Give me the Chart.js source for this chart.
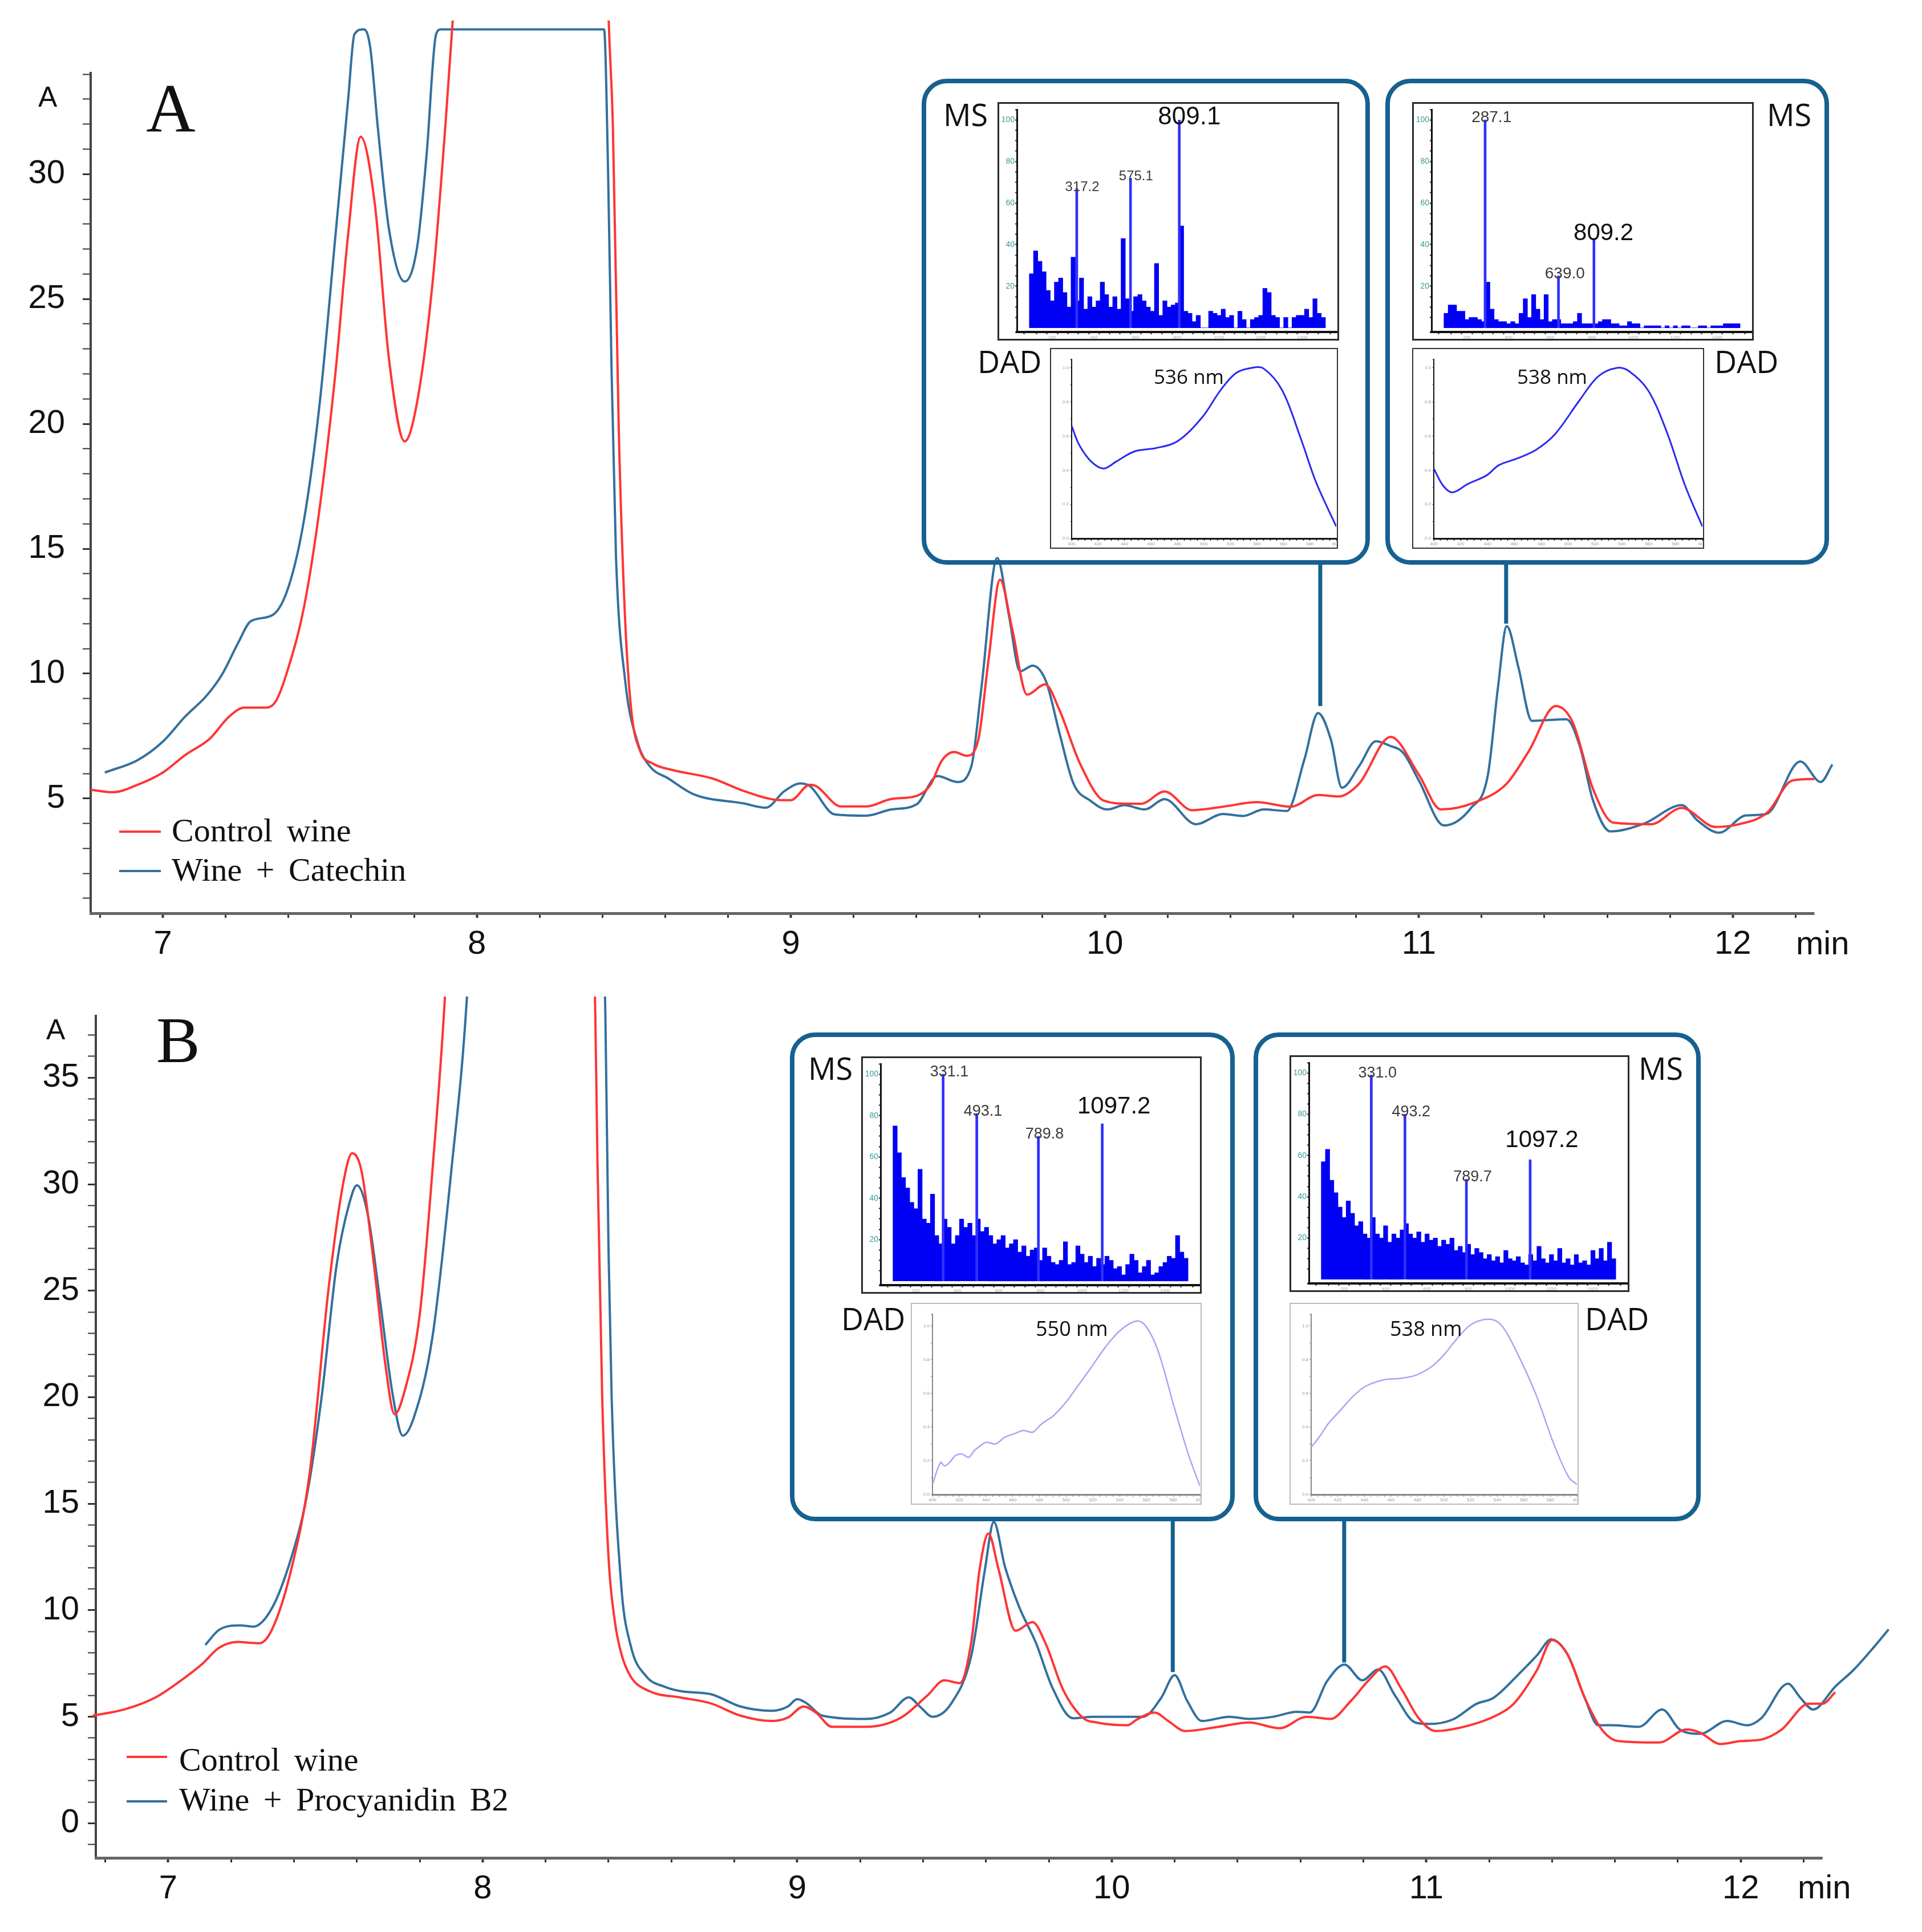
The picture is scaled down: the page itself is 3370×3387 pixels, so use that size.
<!DOCTYPE html>
<html>
<head>
<meta charset="utf-8">
<script src="https://cdn.jsdelivr.net/npm/chart.js@4.4.1/dist/chart.umd.min.js"></script>
<style>
html, body { margin: 0; padding: 0; background: #fff; }
#page { position: relative; width: 3370px; height: 3387px; overflow: hidden; background: #fff; }
canvas { position: absolute; }
.lbl { position: absolute; white-space: pre; line-height: 1; color: #111; }
.box { position: absolute; box-sizing: border-box; border: 8px solid #15618f; border-radius: 44px; }
.frame { position: absolute; box-sizing: border-box; background: #fff; }
</style>
</head>
<body>
<div id="page"></div>
<script>
/* ---------- chromatogram A : control wine vs wine + catechin (min, absorbance) ---------- */
const timeA_ctrl = [6.77, 6.84, 6.92, 7.0, 7.07, 7.15, 7.21, 7.26, 7.33, 7.36,
    7.40, 7.45, 7.50, 7.55, 7.59, 7.63, 7.675, 7.72, 7.77, 7.81,
    7.86, 7.90, 7.925, 7.95, 8.41, 8.419, 8.433, 8.452, 8.472, 8.492,
    8.52, 8.56, 8.62, 8.75, 8.85, 8.95, 9.0, 9.06, 9.08, 9.16,
    9.24, 9.32, 9.40, 9.445, 9.48, 9.52, 9.56, 9.597, 9.63, 9.666,
    9.705, 9.752, 9.81, 9.856, 9.92, 9.997, 10.073, 10.116, 10.19, 10.278,
    10.376, 10.484, 10.592, 10.68, 10.744, 10.81, 10.91, 11.0, 11.07, 11.18,
    11.28, 11.35, 11.436, 11.49, 11.555, 11.62, 11.74, 11.837, 11.945, 12.02,
    12.11, 12.19, 12.26];
const absA_ctrl = [5.35, 5.25, 5.55, 6.04, 6.73, 7.4, 8.27, 8.64, 8.64, 8.9,
    10.25, 12.7, 16.7, 22.1, 27.6, 31.5, 28.8, 22.6, 19.3, 20.9,
    25.8, 32.0, 36.5, 42, 42, 36.5, 32, 19.7, 12.2, 8.5,
    6.9, 6.4, 6.15, 5.8, 5.3, 4.95, 4.93, 5.55, 5.5, 4.68,
    4.68, 4.98, 5.1, 5.55, 6.5, 6.86, 6.71, 7.35, 10.6, 13.76,
    11.78, 9.16, 9.57, 8.52, 6.42, 4.91, 4.79, 4.79, 5.28, 4.53,
    4.67, 4.85, 4.67, 5.14, 5.08, 5.6, 7.47, 5.95, 4.56, 4.85,
    5.6, 6.89, 8.7, 8.05, 5.37, 4.03, 3.97, 4.62, 3.86, 3.97,
    4.44, 5.72, 5.78];
const timeA_cat = [6.815, 6.92, 7.0, 7.07, 7.14, 7.19, 7.24, 7.28, 7.35, 7.40,
    7.45, 7.50, 7.55, 7.59, 7.61, 7.64, 7.66, 7.685, 7.72, 7.77,
    7.81, 7.84, 7.87, 7.886, 8.405, 8.418, 8.429, 8.443, 8.472, 8.511,
    8.55, 8.61, 8.69, 8.85, 8.92, 8.98, 9.03, 9.06, 9.14, 9.24,
    9.32, 9.40, 9.467, 9.53, 9.575, 9.607, 9.657, 9.694, 9.73, 9.77,
    9.813, 9.856, 9.90, 9.954, 10.008, 10.062, 10.127, 10.19, 10.29, 10.376,
    10.44, 10.506, 10.58, 10.635, 10.679, 10.72, 10.755, 10.81, 10.863, 10.906,
    10.95, 11.0, 11.08, 11.166, 11.22, 11.252, 11.28, 11.317, 11.36, 11.47,
    11.512, 11.555, 11.61, 11.718, 11.837, 11.89, 11.956, 12.042, 12.107, 12.215,
    12.28, 12.317];
const absA_cat = [6.04, 6.54, 7.28, 8.27, 9.13, 10.0, 11.24, 12.1, 12.35, 13.47,
    16.2, 20.9, 27.6, 33.0, 35.6, 35.8, 35.1, 31.8, 27.8, 25.7,
    27.1, 30.8, 35.6, 35.8, 35.8, 30, 22.1, 14.7, 9.75, 7.28,
    6.3, 5.8, 5.17, 4.8, 4.63, 5.3, 5.6, 5.5, 4.36, 4.31,
    4.56, 4.76, 5.9, 5.66, 6.3, 9.45, 14.63, 12.36, 10.09, 10.32,
    9.68, 7.59, 5.6, 4.91, 4.56, 4.73, 4.56, 4.97, 3.97, 4.38,
    4.3, 4.56, 4.5, 6.54, 8.42, 7.35, 5.43, 6.3, 7.29, 7.12,
    6.83, 5.72, 3.92, 4.62, 5.95, 9.45, 11.9, 10.26, 8.11, 8.17,
    7.12, 4.91, 3.68, 4.0, 4.73, 4.09, 3.63, 4.32, 4.38, 6.48,
    5.66, 6.36];

/* ---------- chromatogram B : control wine vs wine + procyanidin B2 ---------- */
const timeB_ctrl = [6.76, 6.86, 6.96, 7.035, 7.11, 7.16, 7.22, 7.29, 7.33, 7.39,
    7.45, 7.51, 7.556, 7.585, 7.615, 7.654, 7.69, 7.72, 7.75, 7.80,
    7.84, 7.88, 7.90, 8.345, 8.358, 8.365, 8.38, 8.40, 8.42, 8.44,
    8.47, 8.53, 8.63, 8.725, 8.82, 8.92, 8.97, 9.02, 9.06, 9.11,
    9.22, 9.33, 9.414, 9.468, 9.517, 9.554, 9.58, 9.608, 9.64, 9.694,
    9.748, 9.79, 9.845, 9.91, 9.953, 10.05, 10.08, 10.136, 10.18, 10.233,
    10.34, 10.437, 10.534, 10.62, 10.696, 10.76, 10.815, 10.87, 10.922, 10.976,
    11.03, 11.138, 11.224, 11.278, 11.353, 11.40, 11.45, 11.504, 11.558, 11.61,
    11.74, 11.827, 11.87, 11.935, 12.0, 12.065, 12.13, 12.216, 12.26, 12.30];
const absB_ctrl = [5.05, 5.34, 5.91, 6.64, 7.5, 8.22, 8.51, 8.45, 9.09, 11.83,
    16.45, 25.1, 30.0, 31.45, 30.6, 26.25, 21.6, 19.2, 20.2, 23.9,
    30.6, 38.8, 45, 45, 38, 31, 20, 12.5, 9.5, 8.0,
    6.9, 6.2, 5.9, 5.63, 5.05, 4.8, 4.96, 5.48, 5.19, 4.53,
    4.53, 4.96, 6.0, 6.71, 6.58, 8.57, 11.93, 13.6, 11.93, 9.04,
    9.44, 8.43, 6.28, 4.93, 4.73, 4.6, 4.87, 5.2, 4.8, 4.33,
    4.53, 4.73, 4.46, 5.0, 4.9, 5.74, 6.68, 7.36, 6.28, 4.93,
    4.33, 4.6, 5.07, 5.61, 7.22, 8.6, 7.9, 5.88, 4.4, 3.86,
    3.79, 4.4, 4.26, 3.72, 3.86, 3.93, 4.4, 5.61, 5.61, 6.15];
const timeB_pb2 = [7.118, 7.163, 7.23, 7.27, 7.33, 7.39, 7.44, 7.487, 7.536, 7.576,
    7.60, 7.635, 7.674, 7.713, 7.746, 7.78, 7.84, 7.90, 7.95, 7.97,
    8.375, 8.39, 8.40, 8.41, 8.44, 8.47, 8.52, 8.58, 8.63, 8.725,
    8.82, 8.92, 8.97, 9.0, 9.03, 9.08, 9.22, 9.295, 9.355, 9.39,
    9.43, 9.49, 9.554, 9.597, 9.625, 9.66, 9.705, 9.76, 9.81, 9.877,
    9.94, 10.017, 10.1, 10.157, 10.2, 10.24, 10.287, 10.373, 10.437, 10.513,
    10.588, 10.63, 10.685, 10.74, 10.797, 10.847, 10.9, 10.965, 11.009, 11.084,
    11.16, 11.213, 11.3, 11.353, 11.397, 11.45, 11.504, 11.547, 11.59, 11.676,
    11.75, 11.806, 11.87, 11.957, 12.02, 12.065, 12.15, 12.19, 12.23, 12.30,
    12.36, 12.425, 12.47];
const absB_pb2 = [8.37, 9.09, 9.29, 9.23, 10.1, 12.4, 15.3, 19.9, 26.25, 29.1,
    29.95, 28.56, 24.5, 20.2, 18.2, 19.0, 22.8, 30.6, 38.8, 45,
    45, 38, 27, 20, 11.25, 8.37, 6.9, 6.4, 6.2, 6.06,
    5.48, 5.28, 5.48, 5.83, 5.63, 5.05, 4.9, 5.19, 5.91, 5.48,
    5.0, 5.63, 7.9, 11.93, 14.15, 12.07, 10.18, 8.43, 6.41, 4.93,
    5.0, 5.0, 5.0, 5.88, 6.95, 5.74, 4.8, 5.0, 4.9, 5.0,
    5.23, 5.2, 6.68, 7.45, 6.71, 7.22, 6.01, 4.73, 4.66, 4.87,
    5.61, 5.88, 7.09, 7.9, 8.63, 7.9, 5.88, 4.6, 4.6, 4.53,
    5.34, 4.4, 4.2, 4.8, 4.6, 4.93, 6.55, 5.88, 5.34, 6.41,
    7.22, 8.3, 9.1];

const seriesA = ['Control wine', 'Wine + Catechin'];
const seriesB = ['Control wine', 'Wine + Procyanidin B2'];

/* peaks that carry an inset: retention time and where the pointer stops */
const markTimesA = [10.686, 11.278];
const markEndsA = [8.7, 12.0];
const markTimesB = [10.194, 10.739];
const markEndsB = [7.1, 7.55];

/* ---------- MS spectra (m/z, relative intensity %) ---------- */
const msBins = [100, 120, 140, 160, 180, 200, 220, 240, 260, 280, 300, 320, 340, 360, 380,
    400, 420, 440, 460, 480, 500, 520, 540, 560, 580, 600, 620, 640, 660, 680,
    700, 720, 740, 760, 780, 800, 820, 840, 860, 880, 900, 920, 940, 960, 980,
    1000, 1020, 1040, 1060, 1080, 1100, 1120, 1140, 1160, 1180, 1200, 1220, 1240, 1260, 1280,
    1300, 1320, 1340, 1360, 1380, 1400, 1420, 1440, 1460, 1480, 1500];
const msNoiseA1 = [26, 37, 32, 27, 18, 13, 22, 24, 17, 10, 34, 13, 24, 9, 15,
    10, 13, 22, 16, 10, 15, 9, 43, 14, 8, 15, 16, 13, 10, 8,
    31, 6, 13, 10, 11, 12, 49, 8, 7, 3, 6, 0, 0, 8, 7,
    6, 9, 5, 6, 0, 8, 4, 0, 4, 5, 6, 19, 17, 6, 5,
    0, 5, 0, 5, 6, 6, 9, 5, 14, 7, 5];
const msNoiseA2 = [7, 11, 11, 8, 8, 4, 5, 5, 4, 3, 22, 9, 4, 3, 3,
    2, 3, 2, 7, 14, 5, 16, 9, 4, 16, 3, 4, 4, 2, 2,
    2, 3, 7, 2, 2, 2, 2, 3, 4, 4, 2, 2, 1, 1, 3,
    2, 2, 0, 1, 1, 1, 1, 0, 1, 0, 1, 0, 1, 1, 0,
    0, 1, 1, 0, 1, 1, 1, 2, 2, 2, 2];
const msNoiseB1 = [75, 62, 50, 45, 38, 35, 54, 30, 28, 42, 22, 18, 30, 26, 18,
    22, 30, 26, 28, 22, 30, 24, 26, 22, 18, 20, 22, 16, 18, 20,
    14, 17, 12, 15, 16, 10, 16, 12, 9, 8, 10, 19, 8, 9, 17,
    13, 9, 12, 7, 11, 8, 12, 10, 6, 7, 3, 8, 13, 10, 4,
    7, 10, 3, 4, 7, 9, 12, 11, 22, 14, 11];
const msNoiseB2 = [57, 63, 48, 42, 35, 30, 38, 32, 26, 28, 22, 20, 30, 22, 20,
    26, 18, 22, 20, 24, 27, 22, 20, 23, 18, 22, 19, 20, 16, 19,
    17, 20, 14, 16, 13, 17, 12, 15, 13, 10, 12, 9, 11, 8, 14,
    10, 9, 11, 8, 7, 12, 9, 16, 10, 8, 12, 9, 15, 8, 10,
    7, 12, 8, 9, 7, 14, 10, 15, 9, 18, 10];
const msPeakMzA1 = [317.2, 575.1, 809.1];
const msPeakIntA1 = [67, 72, 100];
const msPeakMzA2 = [287.1, 639.0, 809.2];
const msPeakIntA2 = [100, 25, 43];
const msPeakMzB1 = [331.1, 493.1, 789.8, 1097.2];
const msPeakIntB1 = [100, 81, 70, 76];
const msPeakMzB2 = [331.0, 493.2, 789.7, 1097.2];
const msPeakIntB2 = [99, 80, 48.5, 58];

/* ---------- DAD spectra (nm, absorbance) ---------- */
const dadNmA1 = [400, 405.6, 414.9, 424.2, 433.5, 447.4, 463.7, 480, 498.6, 512.6, 524.2, 535.8, 545.1, 559, 573, 584.7, 600];
const dadAbsA1 = [0.66, 0.55, 0.45, 0.41, 0.45, 0.51, 0.53, 0.57, 0.71, 0.87, 0.97, 1.0, 0.996, 0.87, 0.59, 0.33, 0.07];
const dadNmA2 = [400, 406.9, 413.9, 425.4, 439.3, 448.5, 462.4, 476.2, 490.1, 508.5, 522.4, 536.3, 545.5, 559.4, 573.2, 587.1, 600];
const dadAbsA2 = [0.41, 0.31, 0.27, 0.32, 0.37, 0.43, 0.47, 0.52, 0.61, 0.81, 0.95, 1.0, 0.98, 0.87, 0.63, 0.31, 0.07];
const dadNmB1 = [400, 406, 409, 412.8, 417, 422, 427, 431.2, 436, 440.4, 447, 454.1, 461, 467.9, 475, 481.7, 490.8, 500, 509.2, 518.3, 529.8, 541.3, 552.8, 559.6, 568.8, 580.3, 591.7, 600];
const dadAbsB1 = [0.06, 0.19, 0.17, 0.19, 0.23, 0.24, 0.22, 0.26, 0.29, 0.31, 0.30, 0.34, 0.36, 0.38, 0.37, 0.42, 0.47, 0.55, 0.65, 0.75, 0.88, 0.98, 1.03, 1.0, 0.85, 0.53, 0.23, 0.05];
const dadNmB2 = [400, 406, 412.8, 422, 431.2, 440.4, 454.1, 467.9, 479.4, 490.8, 500, 509.2, 520.6, 534.4, 543.6, 555, 568.8, 582.6, 594, 600];
const dadAbsB2 = [0.28, 0.34, 0.42, 0.50, 0.58, 0.64, 0.68, 0.69, 0.71, 0.76, 0.83, 0.92, 1.01, 1.04, 1.0, 0.84, 0.60, 0.30, 0.10, 0.06];
const dadMaxLabels = ['536 nm', '538 nm', '550 nm', '538 nm'];

/* ---------- styles ---------- */
const RED = '#ff3535';
const BLUE = '#33709d';
const FRAME = '#15618f';
const SANS = "'Liberation Sans', Arial, sans-serif";
const SERIF = "'Liberation Serif', 'Times New Roman', serif";
const SEGOE = "'Open Sans', 'Noto Sans', sans-serif";
const AXIS_END = 12.26; // where the time axis line stops
Chart.defaults.font.family = SANS;

const page = document.getElementById('page');

function addText(txt, left, top, size, family, color) {
    const d = document.createElement('div');
    d.className = 'lbl';
    d.textContent = txt;
    d.style.left = left + 'px';
    d.style.top = top + 'px';
    d.style.fontSize = size + 'px';
    d.style.fontFamily = family;
    if (color) d.style.color = color;
    page.appendChild(d);
    return d;
}
function addCanvas(parent, left, top, w, h) {
    const c = document.createElement('canvas');
    c.width = w; c.height = h;
    c.style.left = left + 'px'; c.style.top = top + 'px';
    c.style.width = w + 'px'; c.style.height = h + 'px';
    parent.appendChild(c);
    return c;
}
function xy(xs, ys) { return xs.map((x, i) => ({x: x, y: ys[i]})); }

/* time axis line (stops before the traces do) and pointers from the inset boxes */
const markerPlugin = {
    id: 'markers',
    afterDatasetsDraw(chart, args, o) {
        const {ctx, chartArea, scales: {x, y}} = chart;
        ctx.save();
        ctx.strokeStyle = '#666'; ctx.lineWidth = 5;
        ctx.beginPath();
        ctx.moveTo(chartArea.left - 2, chartArea.bottom + 2.5);
        ctx.lineTo(x.getPixelForValue(AXIS_END), chartArea.bottom + 2.5);
        ctx.stroke();
        ctx.strokeStyle = FRAME; ctx.lineWidth = 7;
        o.times.forEach((t, i) => {
            const px = x.getPixelForValue(t);
            ctx.beginPath();
            ctx.moveTo(px, o.top);
            ctx.lineTo(px, y.getPixelForValue(o.ends[i]));
            ctx.stroke();
        });
        ctx.restore();
    }
};

/* m/z labels over the MS peaks */
const peakLabelPlugin = {
    id: 'peakLabels',
    afterDatasetsDraw(chart, args, o) {
        const {ctx, scales: {x, y}} = chart;
        ctx.save();
        ctx.textBaseline = 'alphabetic'; ctx.textAlign = 'left';
        o.mz.forEach((m, i) => {
            const big = (i === o.big);
            ctx.font = (big ? o.bigSize : o.smallSize) + "px 'Liberation Sans Narrow', " + SANS;
            ctx.fillStyle = big ? '#111' : '#3a3a3a';
            const txt = m.toFixed(1);
            const w = ctx.measureText(txt).width;
            ctx.fillText(txt, x.getPixelForValue(m) - 0.34 * w, y.getPixelForValue(o.int[i]) + (big ? o.bigDrop : 4));
        });
        ctx.restore();
    }
};

/* ---------- main chromatograms ---------- */
function mainChart(c) {
    const cv = addCanvas(page, 0, c.top, 3370, c.height);
    const line = (name, color, t, v) => ({
        label: name, data: xy(t, v), borderColor: color, borderWidth: 4,
        pointRadius: 0, fill: false, cubicInterpolationMode: 'monotone', clip: c.clip
    });
    const onAxis = v => v <= AXIS_END + 0.01;
    new Chart(cv, {
        type: 'line',
        data: {datasets: [line(c.names[0], RED, c.t0, c.v0), line(c.names[1], BLUE, c.t1, c.v1)]},
        options: {
            responsive: false, animation: false, events: [], devicePixelRatio: 1,
            layout: {padding: {left: 0, top: c.padTop, right: c.padRight, bottom: 0}},
            plugins: {legend: {display: false}, tooltip: {enabled: false},
                markers: {times: c.marks, ends: c.markEnds, top: c.markTop}},
            scales: {
                x: {
                    type: 'linear', min: 6.77, max: c.xmax,
                    afterFit: s => { s.height = c.xh; s.paddingLeft = 0; s.paddingRight = 0; },
                    ticks: {stepSize: 0.2, includeBounds: false, autoSkip: false, maxRotation: 0,
                        padding: 12, color: '#111', font: {size: 58},
                        callback: v => Math.abs(v - Math.round(v)) < 1e-6 ? String(Math.round(v)) : ''},
                    grid: {drawOnChartArea: false, drawTicks: true, tickLength: 10,
                        tickColor: ctx => onAxis(ctx.tick.value) ? '#333' : 'rgba(0,0,0,0)',
                        tickWidth: ctx => Math.abs(ctx.tick.value - Math.round(ctx.tick.value)) < 1e-6 ? 4 : 3},
                    border: {display: false}
                },
                y: {
                    type: 'linear', min: c.ymin, max: c.ymax,
                    afterFit: s => { s.width = c.yw; s.paddingTop = 0; s.paddingBottom = 0; },
                    ticks: {stepSize: 1, includeBounds: false, autoSkip: false, padding: c.yPad,
                        color: '#111', font: {size: 58},
                        callback: v => (v % 5 === 0 && v >= c.firstLabel && v <= c.lastLabel) ? String(v) : ''},
                    grid: {drawOnChartArea: false, drawTicks: true, tickLength: 14, tickColor: '#333',
                        tickWidth: ctx => ctx.tick.value % 5 === 0 ? 3 : 2},
                    border: {display: true, color: '#444', width: 4}
                }
            }
        },
        plugins: [markerPlugin]
    });
}

mainChart({top: 0, height: 1700, padTop: 128, padRight: 150, xh: 101, yw: 159, yPad: 31,
    xmax: 12.33, ymin: 0.45, ymax: 34.05, firstLabel: 5, lastLabel: 30,
    clip: {left: 10, top: 92, right: 6, bottom: 0},
    names: seriesA, t0: timeA_ctrl, v0: absA_ctrl, t1: timeA_cat, v1: absA_cat,
    marks: markTimesA, markEnds: markEndsA, markTop: 986});
mainChart({top: 1700, height: 1687, padTop: 81, padRight: 53, xh: 132, yw: 168, yPad: 15,
    xmax: 12.48, ymin: -1.57, ymax: 37.9, firstLabel: 0, lastLabel: 35,
    clip: {left: 10, top: 34, right: 6, bottom: 0},
    names: seriesB, t0: timeB_ctrl, v0: absB_ctrl, t1: timeB_pb2, v1: absB_pb2,
    marks: markTimesB, markEnds: markEndsB, markTop: 963});

/* axis words, panel letters, legends */
addText('A', 67, 145, 50, SANS);
addText('A', 81, 1780, 50, SANS);
addText('A', 256, 131, 120, SERIF);
addText('B', 274, 1766, 115, SERIF);
addText('min', 3149, 1624, 58, SANS);
addText('min', 3152, 3279, 58, SANS);

function addLegend(names, rows) {
    const colors = [RED, BLUE];
    names.forEach((n, i) => {
        const r = rows[i];
        const ln = document.createElement('div');
        ln.style.cssText = 'position:absolute;height:4px;background:' + colors[i] +
            ';left:' + r.lx + 'px;top:' + (r.ly - 2) + 'px;width:' + r.lw + 'px;';
        page.appendChild(ln);
        const t = addText(n, r.tx, r.ty, 58, SERIF);
        t.style.wordSpacing = '10px';
    });
}
addLegend(seriesA, [{lx: 209, ly: 1458, lw: 73, tx: 301, ty: 1427}, {lx: 209, ly: 1527, lw: 73, tx: 301, ty: 1496}]);
addLegend(seriesB, [{lx: 222, ly: 3080, lw: 71, tx: 314, ty: 3056}, {lx: 222, ly: 3158, lw: 71, tx: 314, ty: 3126}]);

/* ---------- insets ---------- */
function addBox(b) {
    const d = document.createElement('div');
    d.className = 'box';
    d.style.left = b.l + 'px'; d.style.top = b.t + 'px';
    d.style.width = b.w + 'px'; d.style.height = b.h + 'px';
    page.appendChild(d);
}
function addFrame(f, bw, color) {
    const d = document.createElement('div');
    d.className = 'frame';
    d.style.left = f.l + 'px'; d.style.top = f.t + 'px';
    d.style.width = f.w + 'px'; d.style.height = f.h + 'px';
    d.style.border = bw + 'px solid ' + color;
    page.appendChild(d);
    return d;
}

function msChart(f, noise, pmz, pint, lab) {
    const bw = 3;
    const d = addFrame(f, bw, '#2a2a2a');
    const w = f.w - 2 * bw, h = f.h - 2 * bw;
    const cv = addCanvas(d, 0, 0, w, h);
    new Chart(cv, {
        type: 'bar',
        data: {datasets: [
            {data: xy(pmz, pint), backgroundColor: '#3030ff', barThickness: 4, grouped: false, borderWidth: 0},
            {data: xy(msBins, noise), backgroundColor: '#0000f5', barThickness: 7.6, grouped: false, borderWidth: 0}
        ]},
        options: {
            responsive: false, animation: false, events: [], devicePixelRatio: 1,
            layout: {padding: {left: 0, top: 10, right: 1, bottom: 0}},
            plugins: {legend: {display: false}, tooltip: {enabled: false}, peakLabels: lab},
            scales: {
                x: {type: 'linear', offset: false, min: 30, max: 1565,
                    afterFit: s => { s.height = 12; s.paddingLeft = 0; s.paddingRight = 0; },
                    ticks: {stepSize: 50, autoSkip: false, maxRotation: 0, padding: 1, color: '#aaa', font: {size: 8},
                        callback: v => v % 200 === 0 ? String(v) : ''},
                    grid: {drawOnChartArea: false, tickLength: 4, tickColor: '#222', tickWidth: 2},
                    border: {display: true, color: '#111', width: 4}},
                y: {type: 'linear', min: -2, max: 105,
                    afterFit: s => { s.width = 31; s.paddingTop = 0; s.paddingBottom = 0; },
                    ticks: {stepSize: 5, autoSkip: false, padding: 1, color: '#3a9a9a', font: {size: 14},
                        callback: v => (v % 20 === 0 && v >= 0 && v <= 100) ? String(v) : ''},
                    grid: {drawOnChartArea: false, tickLength: 3, tickColor: '#222', tickWidth: 2},
                    border: {display: true, color: '#111', width: 3}}
            }
        },
        plugins: [peakLabelPlugin]
    });
}

function dadChart(f, nm, ab, ymax, color, frameColor, lw) {
    const bw = 2;
    const dark = frameColor === '#333';
    const d = addFrame(f, bw, frameColor);
    const w = f.w - 2 * bw, h = f.h - 2 * bw;
    const cv = addCanvas(d, 0, 0, w, h);
    new Chart(cv, {
        type: 'line',
        data: {datasets: [{data: xy(nm, ab), borderColor: color, borderWidth: lw, pointRadius: 0,
            fill: false, tension: 0.35}]},
        options: {
            responsive: false, animation: false, events: [], devicePixelRatio: 1,
            layout: {padding: {left: 0, top: 18, right: 1, bottom: 0}},
            plugins: {legend: {display: false}, tooltip: {enabled: false}},
            scales: {
                x: {type: 'linear', min: 400, max: 600,
                    afterFit: s => { s.height = 16; s.paddingLeft = 0; s.paddingRight = 0; },
                    ticks: {stepSize: 5, autoSkip: false, maxRotation: 0, padding: 1, color: '#999', font: {size: 8},
                        callback: v => v % 20 === 0 ? String(v) : ''},
                    grid: {drawOnChartArea: false, tickLength: 4, tickColor: dark ? '#222' : '#999', tickWidth: 1.5},
                    border: {display: true, color: dark ? '#111' : '#888', width: 3}},
                y: {type: 'linear', min: 0, max: ymax,
                    afterFit: s => { s.width = 36; s.paddingTop = 0; s.paddingBottom = 0; },
                    ticks: {stepSize: 0.1, autoSkip: false, padding: 2, color: '#999', font: {size: 8},
                        callback: v => (Math.round(v * 10) % 2 === 0) ? v.toFixed(1) : ''},
                    grid: {drawOnChartArea: false, tickLength: 3, tickColor: '#777', tickWidth: 1},
                    border: {display: true, color: dark ? '#111' : '#888', width: 2}}
            }
        }
    });
}

/* panel A insets */
addBox({l: 1616, t: 138, w: 786, h: 852});
addBox({l: 2429, t: 138, w: 778, h: 852});
msChart({l: 1749, t: 179, w: 599, h: 418}, msNoiseA1, msPeakMzA1, msPeakIntA1,
    {mz: msPeakMzA1, int: msPeakIntA1, big: 2, bigSize: 44, smallSize: 24, bigDrop: 8});
msChart({l: 2476, t: 179, w: 599, h: 418}, msNoiseA2, msPeakMzA2, msPeakIntA2,
    {mz: msPeakMzA2, int: msPeakIntA2, big: 2, bigSize: 42, smallSize: 28, bigDrop: 3});
dadChart({l: 1841, t: 610, w: 505, h: 352}, dadNmA1, dadAbsA1, 1.05, '#2a2af2', '#333', 3);
dadChart({l: 2476, t: 610, w: 512, h: 352}, dadNmA2, dadAbsA2, 1.05, '#2a2af2', '#333', 3);
addText('MS', 1654, 173, 54, SEGOE);
addText('DAD', 1714, 606, 54, SEGOE);
addText(dadMaxLabels[0], 2023, 642, 35, SEGOE);
addText('MS', 3098, 173, 54, SEGOE);
addText('DAD', 3006, 606, 54, SEGOE);
addText(dadMaxLabels[1], 2660, 642, 35, SEGOE);

/* panel B insets */
addBox({l: 1385, t: 1810, w: 780, h: 857});
addBox({l: 2198, t: 1810, w: 784, h: 857});
msChart({l: 1510, t: 1852, w: 597, h: 416}, msNoiseB1, msPeakMzB1, msPeakIntB1,
    {mz: msPeakMzB1, int: msPeakIntB1, big: 3, bigSize: 42, smallSize: 27, bigDrop: -18});
msChart({l: 2261, t: 1850, w: 596, h: 415}, msNoiseB2, msPeakMzB2, msPeakIntB2,
    {mz: msPeakMzB2, int: msPeakIntB2, big: 3, bigSize: 42, smallSize: 27, bigDrop: -22});
dadChart({l: 1597, t: 2284, w: 510, h: 354}, dadNmB1, dadAbsB1, 1.07, '#a6a6f4', '#bbb', 2.5);
dadChart({l: 2261, t: 2284, w: 507, h: 354}, dadNmB2, dadAbsB2, 1.07, '#a6a6f4', '#bbb', 2.5);
addText('MS', 1417, 1845, 54, SEGOE);
addText('DAD', 1475, 2284, 54, SEGOE);
addText(dadMaxLabels[2], 1816, 2311, 36, SEGOE);
addText('MS', 2873, 1845, 54, SEGOE);
addText('DAD', 2779, 2284, 54, SEGOE);
addText(dadMaxLabels[3], 2437, 2311, 36, SEGOE);
</script>
</body>
</html>
